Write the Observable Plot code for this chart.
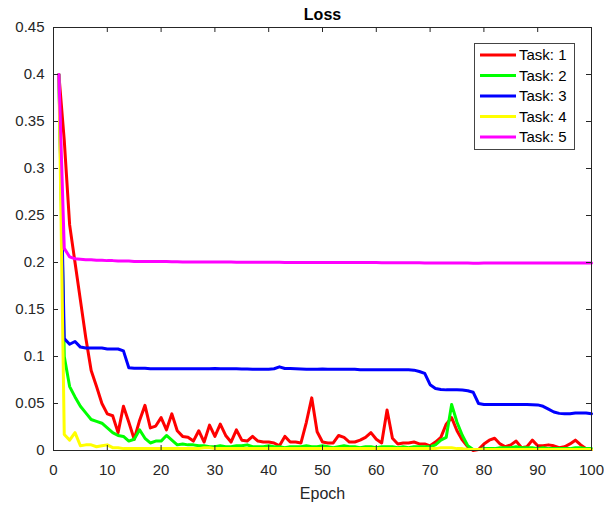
<!DOCTYPE html>
<html>
<head>
<meta charset="utf-8">
<script src="https://cdn.jsdelivr.net/npm/d3@7"></script>
<script src="https://cdn.jsdelivr.net/npm/@observablehq/plot@0.6"></script>
<style>
  html, body { margin: 0; padding: 0; background: #fff; }
  #wrap { position: relative; width: 604px; height: 508px; font-family: "Liberation Sans", Arial, sans-serif; }
  #legend { position: absolute; left: 0; top: 0; }
</style>
</head>
<body>
<div id="wrap"></div>
<script>
const title = "Loss";
const xLabel = "Epoch";
const seriesNames = ["Task: 1", "Task: 2", "Task: 3", "Task: 4", "Task: 5"];
const seriesColors = ["#ff0000", "#00ff00", "#0000ff", "#ffff00", "#ff00ff"];
const xTicks = [0, 10, 20, 30, 40, 50, 60, 70, 80, 90, 100];
const yTicks = [0, 0.05, 0.1, 0.15, 0.2, 0.25, 0.3, 0.35, 0.4, 0.45];

const task1 = [0.400,0.330,0.240,0.200,0.160,0.120,0.085,0.068,0.050,0.039,
0.037,0.019,0.047,0.030,0.012,0.032,0.048,0.024,0.026,0.035,
0.022,0.039,0.021,0.015,0.014,0.010,0.021,0.009,0.027,0.015,
0.028,0.016,0.009,0.022,0.011,0.010,0.015,0.010,0.009,0.009,
0.008,0.005,0.015,0.009,0.009,0.008,0.030,0.056,0.020,0.009,
0.008,0.008,0.016,0.014,0.009,0.009,0.011,0.014,0.019,0.012,
0.008,0.043,0.013,0.007,0.008,0.008,0.009,0.007,0.007,0.005,
0.009,0.014,0.028,0.035,0.021,0.011,0.004,0.000,0.001,0.007,
0.011,0.013,0.007,0.004,0.006,0.010,0.003,0.004,0.011,0.005,
0.005,0.006,0.005,0.003,0.004,0.007,0.011,0.006,0.002,0.001];

const task2 = [0.400,0.100,0.068,0.057,0.047,0.040,0.033,0.031,0.029,0.024,
0.019,0.016,0.015,0.010,0.012,0.022,0.013,0.008,0.010,0.010,
0.016,0.011,0.006,0.007,0.006,0.006,0.005,0.005,0.004,0.004,
0.005,0.004,0.004,0.005,0.005,0.006,0.004,0.004,0.004,0.005,
0.004,0.004,0.003,0.004,0.004,0.004,0.005,0.004,0.004,0.005,
0.004,0.003,0.004,0.005,0.004,0.004,0.003,0.004,0.004,0.003,
0.004,0.004,0.004,0.003,0.004,0.003,0.004,0.004,0.004,0.004,
0.006,0.011,0.014,0.049,0.030,0.016,0.005,0.001,0.001,0.002,
0.002,0.002,0.003,0.003,0.003,0.004,0.003,0.003,0.003,0.002,
0.003,0.002,0.002,0.002,0.002,0.002,0.003,0.003,0.002,0.002];

const task3 = [0.400,0.119,0.113,0.116,0.110,0.109,0.109,0.109,0.109,0.108,
0.108,0.108,0.106,0.088,0.0875,0.0875,0.0875,0.087,0.087,0.087,
0.087,0.087,0.087,0.087,0.087,0.087,0.087,0.087,0.087,0.0872,
0.087,0.087,0.087,0.087,0.0868,0.0868,0.0865,0.0865,0.0865,0.0865,
0.087,0.089,0.0872,0.0872,0.087,0.0868,0.0865,0.0865,0.0865,0.0868,
0.0865,0.0865,0.0865,0.0865,0.0865,0.0865,0.086,0.086,0.086,0.086,
0.086,0.086,0.086,0.086,0.086,0.0858,0.0855,0.084,0.082,0.070,
0.066,0.065,0.0645,0.0645,0.0645,0.0643,0.0635,0.062,0.050,0.049,
0.049,0.049,0.049,0.049,0.049,0.049,0.049,0.049,0.0488,0.0485,
0.047,0.044,0.041,0.0395,0.039,0.0392,0.040,0.040,0.0398,0.039];

const task4 = [0.400,0.017,0.011,0.019,0.005,0.006,0.006,0.004,0.005,0.006,
0.003,0.003,0.002,0.002,0.002,0.002,0.002,0.002,0.002,0.002,
0.002,0.002,0.002,0.002,0.002,0.002,0.002,0.003,0.003,0.002,
0.002,0.002,0.002,0.002,0.002,0.002,0.002,0.002,0.002,0.002,
0.002,0.002,0.002,0.002,0.002,0.002,0.002,0.002,0.002,0.002,
0.002,0.002,0.002,0.002,0.002,0.002,0.002,0.002,0.002,0.002,
0.002,0.002,0.002,0.002,0.002,0.002,0.002,0.002,0.002,0.002,
0.002,0.003,0.003,0.003,0.002,0.002,0.001,0.001,0.001,0.001,
0.001,0.001,0.001,0.001,0.001,0.001,0.001,0.001,0.001,0.001,
0.001,0.001,0.001,0.001,0.001,0.001,0.001,0.001,0.001,0.001];

const task5 = [0.400,0.215,0.206,0.204,0.2035,0.203,0.203,0.2025,0.2025,0.202,
0.202,0.2015,0.2015,0.2015,0.201,0.201,0.201,0.201,0.201,0.201,
0.201,0.2008,0.2008,0.2006,0.2006,0.2005,0.2005,0.2005,0.2005,0.2005,
0.2004,0.2004,0.2004,0.2003,0.2003,0.2003,0.2003,0.2003,0.2002,0.2002,
0.2002,0.2002,0.2001,0.2001,0.2001,0.2001,0.2,0.2,0.2,0.2,
0.2,0.2,0.2,0.2,0.2,0.2,0.1999,0.1999,0.1999,0.1999,
0.1998,0.1998,0.1998,0.1998,0.1997,0.1997,0.1997,0.1997,0.1996,0.1996,
0.1996,0.1996,0.1995,0.1995,0.1995,0.1994,0.1994,0.1993,0.1993,0.1994,
0.1995,0.1995,0.1995,0.1995,0.1995,0.1995,0.1995,0.1995,0.1995,0.1995,
0.1995,0.1994,0.1994,0.1994,0.1994,0.1994,0.1994,0.1995,0.1995,0.1995];

const seriesValues = [task1, task2, task3, task4, task5];

const rows = [];
seriesValues.forEach((vals, s) => {
  vals.forEach((v, i) => rows.push({epoch: i + 1, loss: v, task: seriesNames[s]}));
});

const W = 604, H = 508;
const mL = 53, mR = 13, mT = 27, mB = 58;
const innerH = H - mT - mB, innerW = W - mL - mR;
const axisColor = "#262626";
const fmt = d => String(+d.toFixed(2));

const chart = Plot.plot({
  width: W,
  height: H,
  marginLeft: mL,
  marginRight: mR,
  marginTop: mT,
  marginBottom: mB,
  style: {fontFamily: "'Liberation Sans', Arial, sans-serif", fontSize: "15px", color: axisColor, background: "#fff"},
  x: {domain: [0, 100]},
  y: {domain: [0, 0.45]},
  color: {domain: seriesNames, range: seriesColors},
  marks: [
    Plot.line(rows, {x: "epoch", y: "loss", z: "task", stroke: "task", strokeWidth: 3, strokeLinejoin: "round"}),
    Plot.frame({stroke: axisColor, strokeWidth: 1}),
    Plot.tickX(xTicks, {x: d => d, stroke: axisColor, insetTop: innerH - 5}),
    Plot.tickX(xTicks, {x: d => d, stroke: axisColor, insetBottom: innerH - 5}),
    Plot.tickY(yTicks, {y: d => d, stroke: axisColor, insetRight: innerW - 5}),
    Plot.tickY(yTicks, {y: d => d, stroke: axisColor, insetLeft: innerW - 5}),
    Plot.axisX({ticks: xTicks, tickSize: 0, tickPadding: 14, tickFormat: d => String(d), label: null, fontSize: 15}),
    Plot.axisY({ticks: yTicks, tickSize: 0, tickPadding: 9, tickFormat: fmt, label: null, fontSize: 15}),
    Plot.text([title], {text: d => d, frameAnchor: "top", lineAnchor: "middle", dy: -13, fontWeight: "bold", fontSize: 16, fill: "#000"}),
    Plot.text([xLabel], {text: d => d, frameAnchor: "bottom", lineAnchor: "middle", dy: 43, fontSize: 16, fill: axisColor})
  ]
});

const wrap = document.getElementById("wrap");
wrap.appendChild(chart);

// Legend overlay
const lg = d3.select(wrap).append("svg")
  .attr("id", "legend")
  .attr("width", W).attr("height", H)
  .style("pointer-events", "none");
const lx = 474, ly = 43, lw = 100, lh = 106, rowH = 20.5;
lg.append("rect").attr("x", lx + 0.5).attr("y", ly + 0.5).attr("width", lw).attr("height", lh)
  .attr("fill", "#fff").attr("stroke", "#444").attr("stroke-width", 1);
seriesNames.forEach((name, i) => {
  const cy = ly + 12 + i * rowH;
  lg.append("line").attr("x1", lx + 6).attr("x2", lx + 42).attr("y1", cy).attr("y2", cy)
    .attr("stroke", seriesColors[i]).attr("stroke-width", 3);
  lg.append("text").attr("x", lx + 45).attr("y", cy).attr("dy", "0.35em")
    .attr("font-family", "'Liberation Sans', Arial, sans-serif").attr("font-size", 15)
    .attr("fill", "#000").text(name);
});
</script>
</body>
</html>
